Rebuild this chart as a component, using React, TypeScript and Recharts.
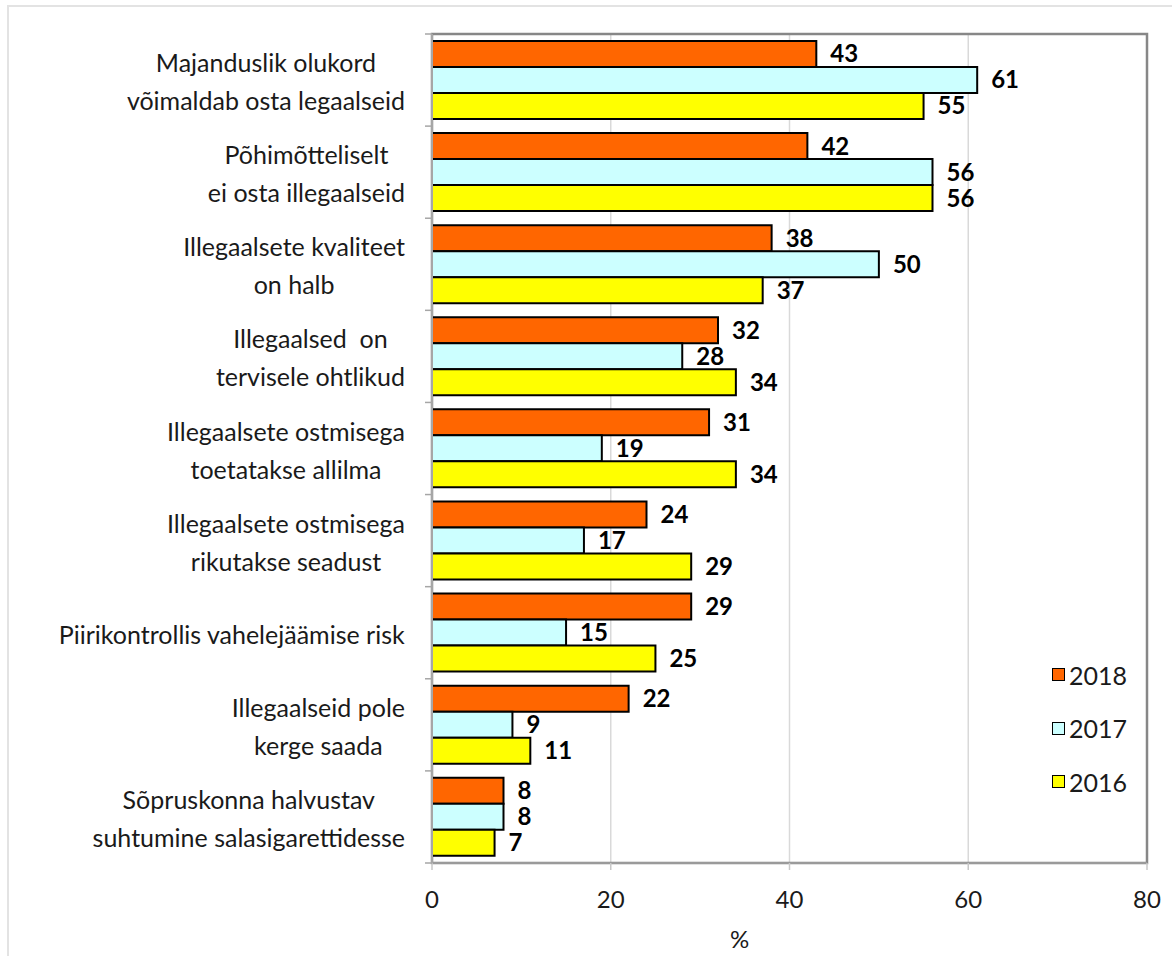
import { BarChart, Bar, XAxis, YAxis, CartesianGrid, LabelList, ReferenceArea } from "recharts";

const categories = [
  "Majanduslik olukord\nvõimaldab osta legaalseid",
  "Põhimõtteliselt\nei osta illegaalseid",
  "Illegaalsete kvaliteet\non halb",
  "Illegaalsed  on\ntervisele ohtlikud",
  "Illegaalsete ostmisega\ntoetatakse allilma",
  "Illegaalsete ostmisega\nrikutakse seadust",
  "Piirikontrollis vahelejäämise risk",
  "Illegaalseid pole\nkerge saada",
  "Sõpruskonna halvustav\nsuhtumine salasigarettidesse",
];
const values2018 = [43, 42, 38, 32, 31, 24, 29, 22, 8];
const values2017 = [61, 56, 50, 28, 19, 17, 15, 9, 8];
const values2016 = [55, 56, 37, 34, 34, 29, 25, 11, 7];
const xTicks = [0, 20, 40, 60, 80];

const series = [
  { key: "y2018", name: "2018", color: "#FF6600" },
  { key: "y2017", name: "2017", color: "#CCFFFF" },
  { key: "y2016", name: "2016", color: "#FFFF00" },
];

const data = categories.map((name, i) => ({
  name,
  y2018: values2018[i],
  y2017: values2017[i],
  y2016: values2016[i],
}));

const FONT = "Lato, 'Open Sans', sans-serif";
const W = 1172;
const H = 956;
const M = { top: 34, right: 25, bottom: 0, left: 0 };
const Y_W = 432;
const X_H = 93;
const plotH = H - M.top - M.bottom - X_H;
const bandH = plotH / categories.length;
const CAT_SIZE = 25;

let ctx: CanvasRenderingContext2D | null = null;
const measure = (t: string, font: string) => {
  if (!ctx) ctx = document.createElement("canvas").getContext("2d");
  if (!ctx) return t.length * 11;
  ctx.font = font;
  return ctx.measureText(t).width;
};

const CatTick = ({ x, y, payload, index }: any) => {
  const lines = String(payload.value).split("\n");
  const maxW = Math.max(...lines.map((l) => measure(l, `${CAT_SIZE}px Lato`)));
  const right = x - 19;
  const cx = right - maxW / 2;
  const step = 38;
  const start = y + 1 - ((lines.length - 1) * step) / 2;
  return (
    <g>
      <line x1={Y_W - 7} x2={Y_W} y1={y - bandH / 2} y2={y - bandH / 2} stroke="#a6a6a6" strokeWidth={1.5} />
      {index === categories.length - 1 && (
        <line x1={Y_W - 7} x2={Y_W} y1={y + bandH / 2} y2={y + bandH / 2} stroke="#a6a6a6" strokeWidth={1.5} />
      )}
      {lines.map((l, i) => (
        <text
          key={i}
          x={cx}
          y={start + i * step}
          textAnchor="middle"
          dominantBaseline="central"
          fontFamily={FONT}
          fontSize={CAT_SIZE}
          fill="#1a1a1a"
          style={{ whiteSpace: "pre" }}
        >
          {l}
        </text>
      ))}
    </g>
  );
};

const NumTick = ({ x, y, payload }: any) => (
  <text x={x} y={y + 28} textAnchor="middle" dominantBaseline="central" fontFamily={FONT} fontSize={24} fill="#1a1a1a">
    {payload.value}
  </text>
);

const LegendBox = () => (
  <div style={{ position: "absolute", left: 1052, top: 648, fontFamily: FONT, fontSize: 25, color: "#1a1a1a" }}>
    {series.map((s) => (
      <div key={s.key} style={{ display: "flex", alignItems: "center", height: 53.5 }}>
        <span
          style={{
            display: "inline-block",
            width: 11,
            height: 11,
            background: s.color,
            border: "1.5px solid #000",
            marginRight: 4,
          }}
        />
        {s.name}
      </div>
    ))}
  </div>
);

export default function App() {
  return (
    <div style={{ position: "absolute", left: 0, top: 0, width: W, height: H, background: "#fff" }}>
      <div
        style={{
          position: "absolute",
          left: 7,
          top: 5,
          right: 0,
          bottom: 0,
          borderTop: "2px solid #e3e3e3",
          borderLeft: "2px solid #e3e3e3",
        }}
      />
      <div style={{ position: "absolute", left: 0, top: 0 }}>
        <BarChart
          width={W}
          height={H}
          data={data}
          layout="vertical"
          margin={M}
          barCategoryGap="7.5%"
          barGap={0}
        >
          <CartesianGrid horizontal={false} stroke="#d9d9d9" strokeWidth={1.5} />
          <ReferenceArea x1={0} x2={80} fill="none" fillOpacity={0} stroke="#878787" strokeWidth={2.5} />
          <XAxis
            type="number"
            domain={[0, 80]}
            ticks={xTicks}
            height={X_H}
            tickSize={7}
            tickMargin={0}
            axisLine={{ stroke: "#9a9a9a", strokeWidth: 2 }}
            tickLine={{ stroke: "#c8c8c8", strokeWidth: 1.5 }}
            tick={<NumTick />}
            label={{ value: "%", position: "insideBottom", offset: 8, dx: -50, fontFamily: FONT, fontSize: 24, fill: "#1a1a1a" }}
          />
          <YAxis
            type="category"
            dataKey="name"
            width={Y_W}
            axisLine={{ stroke: "#a6a6a6", strokeWidth: 2 }}
            tickLine={false}
            tick={<CatTick />}
            interval={0}
          />
          {series.map((s) => (
            <Bar
              key={s.key}
              dataKey={s.key}
              name={s.name}
              fill={s.color}
              stroke="#000"
              strokeWidth={2}
              isAnimationActive={false}
            >
              <LabelList
                dataKey={s.key}
                position="right"
                offset={14}
                fontFamily={FONT}
                fontWeight={700}
                fontSize={24}
                fill="#000"
              />
            </Bar>
          ))}
        </BarChart>
      </div>
      <LegendBox />
    </div>
  );
}
